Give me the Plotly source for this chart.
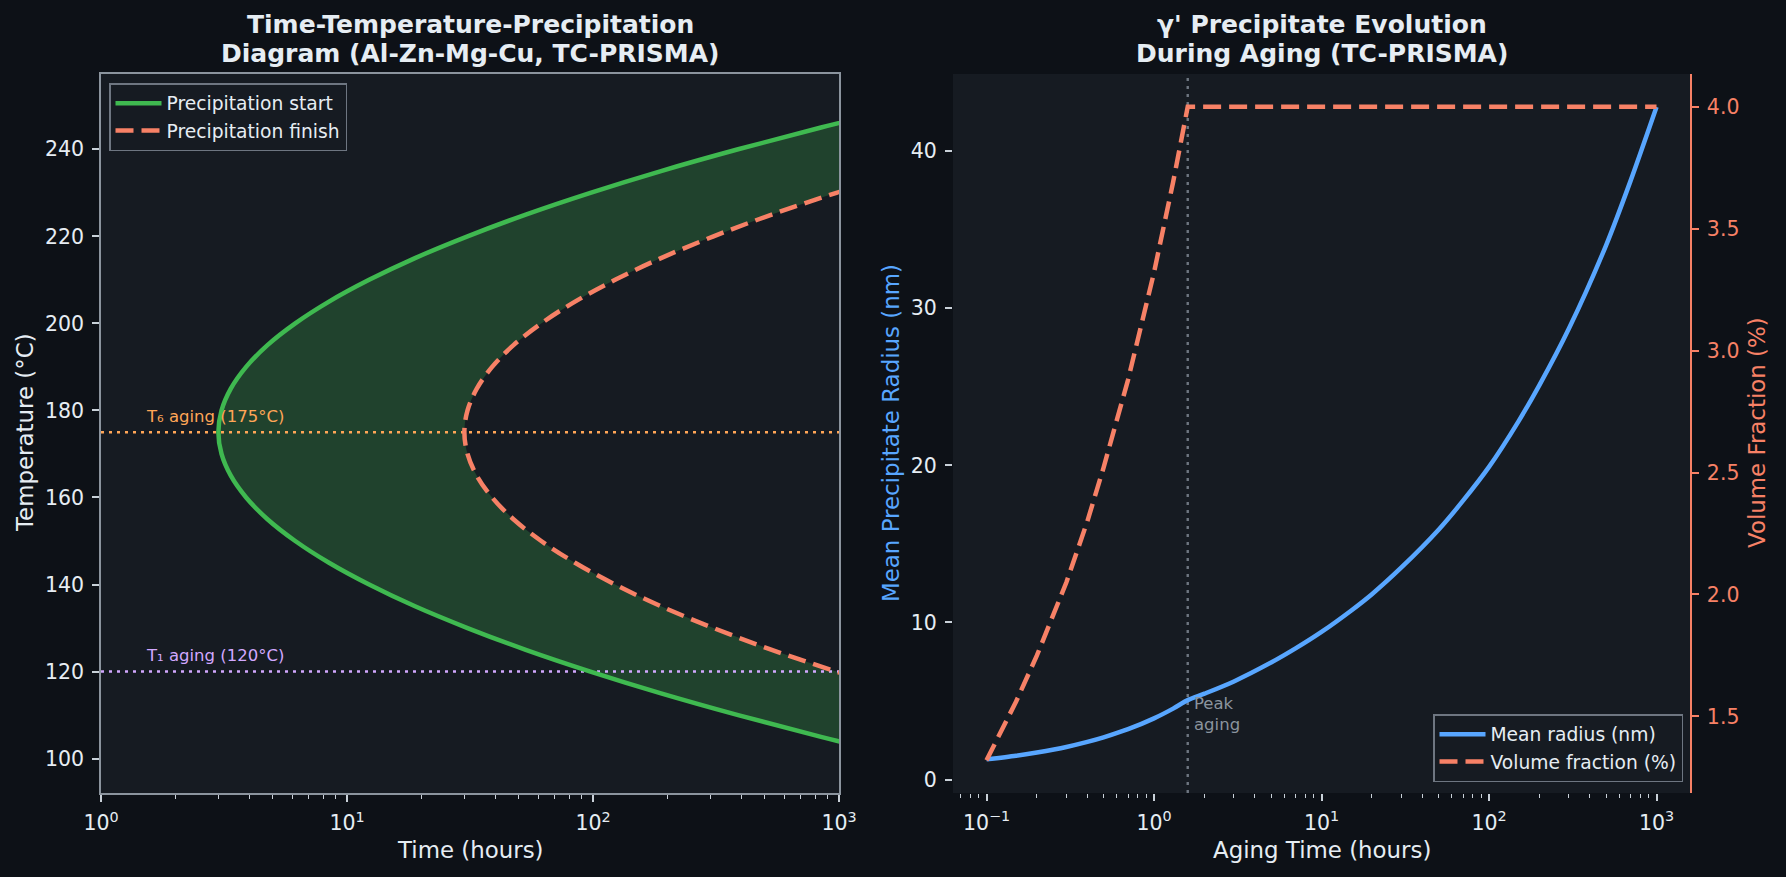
import math
import plotly.graph_objects as go

# ---------------- data ----------------
# Left: TTP diagram
temperature_c = [100, 105, 110, 115, 120, 125, 130, 135, 140, 145, 150, 155, 160, 165, 170, 175,
                 180, 185, 190, 195, 200, 205, 210, 215, 220, 225, 230, 235, 240, 245, 250]
start_hours = [1948, 845, 389, 189, 97.6, 53.3, 30.9, 18.9, 12.3, 8.45, 6.16, 4.75, 3.89, 3.37, 3.09, 3.0,
               3.09, 3.37, 3.89, 4.75, 6.16, 8.45, 12.3, 18.9, 30.9, 53.3, 97.6, 189, 389, 845, 1948]
finish_hours = [19480, 8450, 3890, 1890, 976, 533, 309, 189, 123, 84.5, 61.6, 47.5, 38.9, 33.7, 30.9, 30.0,
                30.9, 33.7, 38.9, 47.5, 61.6, 84.5, 123, 189, 309, 533, 976, 1890, 3890, 8450, 19480]
aging_lines_temp = [175, 120]
aging_lines_label = ["T₆ aging (175°C)", "T₁ aging (120°C)"]

# Right: precipitate evolution
aging_hours = [0.1, 0.15, 0.2, 0.3, 0.4, 0.5, 0.7, 1.0, 1.3, 1.59, 2, 3, 5, 7, 10, 15, 20, 30, 50,
               70, 100, 150, 200, 300, 500, 700, 1000]
mean_radius_nm = [1.29, 1.52, 1.73, 2.08, 2.40, 2.69, 3.21, 3.90, 4.52, 5.06, 5.47, 6.25, 7.45, 8.35,
                  9.40, 10.75, 11.80, 13.50, 15.90, 17.75, 19.90, 22.80, 25.10, 28.70, 34.00, 38.10, 42.80]
volume_fraction_pct = [1.32, 1.56, 1.75, 2.05, 2.30, 2.52, 2.88, 3.32, 3.69, 4.00, 4.00, 4.00, 4.00, 4.00,
                       4.00, 4.00, 4.00, 4.00, 4.00, 4.00, 4.00, 4.00, 4.00, 4.00, 4.00, 4.00, 4.00]
peak_aging_hours = 1.59

# ---------------- styling ----------------
FONT = "DejaVu Sans"
PAPER = "#0d1117"
PANEL = "#161b22"
TEXT = "#e6edf3"
SPINE = "#8b949e"
GREEN = "#3fb950"
SALMON = "#f78166"
BLUE = "#58a6ff"
ORANGE = "#ffa657"
PURPLE = "#d2a8ff"
GREY = "#8b949e"

W, H = 1786, 877
L1, R1 = 101 / W, 839 / W
L2, R2 = 953 / W, 1690 / W
B, T = 1 - 793 / H, 1 - 74 / H

TICK = 20.5
LABEL = 22.9
TITLE = 25
LEG = 18.7
SMALL = 16.5

fig = go.Figure()

# fill between start and finish
fig.add_trace(go.Scatter(
    x=start_hours + finish_hours[::-1], y=temperature_c + temperature_c[::-1],
    fill="toself", fillcolor="rgba(63,185,80,0.25)", line=dict(width=0, shape="spline"),
    mode="lines", showlegend=False, hoverinfo="skip", xaxis="x", yaxis="y"))

# aging temperature lines
for temp, col in zip(aging_lines_temp, [ORANGE, PURPLE]):
    fig.add_trace(go.Scatter(x=[1, 1000], y=[temp, temp], mode="lines",
                             line=dict(color=col, width=2.6, dash="3px,5px"),
                             showlegend=False, xaxis="x", yaxis="y"))

fig.add_trace(go.Scatter(x=start_hours, y=temperature_c, mode="lines", name="Precipitation start",
                         line=dict(color=GREEN, width=4.5, shape="spline"),
                         xaxis="x", yaxis="y", legend="legend", legendgroup="a"))
fig.add_trace(go.Scatter(x=finish_hours, y=temperature_c, mode="lines", name="Precipitation finish",
                         line=dict(color=SALMON, width=4.5, dash="18px,8px", shape="spline"),
                         xaxis="x", yaxis="y", legend="legend", legendgroup="b"))

# right panel
fig.add_trace(go.Scatter(x=[peak_aging_hours, peak_aging_hours], y=[-0.85, 44.9], mode="lines",
                         line=dict(color="#6e7681", width=2.4, dash="3px,5px"),
                         showlegend=False, xaxis="x2", yaxis="y2"))
fig.add_trace(go.Scatter(x=aging_hours, y=mean_radius_nm, mode="lines", name="Mean radius (nm)",
                         line=dict(color=BLUE, width=4.5, shape="spline", smoothing=0.8),
                         xaxis="x2", yaxis="y2", legend="legend2", legendgroup="c"))
fig.add_trace(go.Scatter(x=aging_hours, y=volume_fraction_pct, mode="lines", name="Volume fraction (%)",
                         line=dict(color=SALMON, width=4.5, dash="18px,8px"),
                         xaxis="x2", yaxis="y3", legend="legend2", legendgroup="d"))

def sup(e):
    return "10<sup>" + (str(e) if e >= 0 else "\u2212" + str(-e)) + "</sup>"

def minor_vals(lo, hi):
    vals = []
    for e in range(lo, hi):
        for m in range(2, 10):
            vals.append(m * 10 ** e)
    return vals

tickfont = dict(family=FONT, size=TICK, color=TEXT)

common_x = dict(type="log", showgrid=False, zeroline=False, ticks="outside", ticklen=7, tickwidth=1.5,
                tickcolor="#c9d1d9", tickfont=tickfont, ticklabelstandoff=4, automargin=False)

fig.update_layout(
    width=W, height=H, autosize=False,
    margin=dict(l=0, r=0, t=0, b=0, autoexpand=False),
    paper_bgcolor=PAPER, plot_bgcolor=PANEL,
    font=dict(family=FONT, color=TEXT),
    xaxis=dict(**common_x, domain=[L1, R1], anchor="y", range=[0, 3],
               tickvals=[1, 10, 100, 1000], ticktext=[sup(e) for e in range(0, 4)],
               showline=True, linecolor=SPINE, linewidth=1.5, mirror=True,
               minor=dict(ticks="outside", ticklen=4, tickwidth=1, tickcolor="#c9d1d9",
                          tickvals=minor_vals(0, 3), showgrid=False)),
    yaxis=dict(domain=[B, T], anchor="x", range=[92.1, 257.3], tickvals=list(range(100, 241, 20)),
               showgrid=False, zeroline=False, ticks="outside", ticklen=7, tickwidth=1.5,
               tickcolor="#c9d1d9", tickfont=tickfont, ticklabelstandoff=4, automargin=False,
               showline=True, linecolor=SPINE, linewidth=1.5, mirror=True),
    xaxis2=dict(**common_x, domain=[L2, R2], anchor="y2", range=[-1.2, 3.2],
                tickvals=[0.1, 1, 10, 100, 1000], ticktext=[sup(e) for e in range(-1, 4)],
                showline=False,
                minor=dict(ticks="outside", ticklen=4, tickwidth=1, tickcolor="#c9d1d9",
                           tickvals=minor_vals(-2, 4), showgrid=False)),
    yaxis2=dict(domain=[B, T], anchor="x2", range=[-0.85, 44.9], tickvals=[0, 10, 20, 30, 40],
                showgrid=False, zeroline=False, ticks="outside", ticklen=7, tickwidth=1.5,
                tickcolor="#c9d1d9", tickfont=tickfont, ticklabelstandoff=4, showline=False,
                automargin=False),
    yaxis3=dict(overlaying="y2", side="right", anchor="x2", range=[1.186, 4.134],
                tickvals=[1.5, 2.0, 2.5, 3.0, 3.5, 4.0], ticktext=["1.5", "2.0", "2.5", "3.0", "3.5", "4.0"],
                showgrid=False, zeroline=False, ticks="outside", ticklen=7, tickwidth=1.5,
                tickcolor=SALMON, tickfont=dict(family=FONT, size=TICK, color=SALMON), ticklabelstandoff=4,
                showline=True, linecolor=SALMON, linewidth=1.5, automargin=False),
    legend=dict(x=109 / W, y=1 - 83 / H, xanchor="left", yanchor="top",
                bgcolor=PANEL, bordercolor="#6e7681", borderwidth=1.5,
                font=dict(family=FONT, size=LEG, color=TEXT), tracegroupgap=0, itemwidth=46),
    legend2=dict(x=1683 / W, y=1 - 782 / H, xanchor="right", yanchor="bottom",
                 bgcolor=PANEL, bordercolor="#6e7681", borderwidth=1.5,
                 font=dict(family=FONT, size=LEG, color=TEXT), tracegroupgap=0, itemwidth=46),
)

ann = []
cx1, cx2 = (L1 + R1) / 2, (L2 + R2) / 2
titles = [("Time-Temperature-Precipitation", "Diagram (Al-Zn-Mg-Cu, TC-PRISMA)", cx1),
          ("γ' Precipitate Evolution", "During Aging (TC-PRISMA)", cx2)]
for l1, l2, cx in titles:
    for txt, yy in ((l1, 25), (l2, 53.5)):
        ann.append(dict(text="<b>" + txt + "</b>", x=cx, y=1 - yy / H, xref="paper", yref="paper",
                        showarrow=False, font=dict(family=FONT, size=TITLE, color=TEXT),
                        xanchor="center", yanchor="middle"))
ann.append(dict(text="Time (hours)", x=cx1, y=1 - 850 / H, xref="paper", yref="paper", showarrow=False,
                font=dict(family=FONT, size=LABEL, color=TEXT), xanchor="center", yanchor="middle"))
ann.append(dict(text="Aging Time (hours)", x=cx2, y=1 - 850 / H, xref="paper", yref="paper", showarrow=False,
                font=dict(family=FONT, size=LABEL, color=TEXT), xanchor="center", yanchor="middle"))
ann.append(dict(text="Temperature (°C)", x=25 / W, y=1 - 433 / H, xref="paper", yref="paper",
                showarrow=False, textangle=-90, xanchor="center", yanchor="middle",
                font=dict(family=FONT, size=LABEL, color=TEXT)))
ann.append(dict(text="Mean Precipitate Radius (nm)", x=891 / W, y=1 - 433 / H, xref="paper", yref="paper",
                showarrow=False, textangle=-90, xanchor="center", yanchor="middle",
                font=dict(family=FONT, size=LABEL, color=BLUE)))
ann.append(dict(text="Volume Fraction (%)", x=1757 / W, y=1 - 433 / H, xref="paper", yref="paper",
                showarrow=False, textangle=-90, xanchor="center", yanchor="middle",
                font=dict(family=FONT, size=LABEL, color=SALMON)))
for temp, lab, col in zip(aging_lines_temp, aging_lines_label, [ORANGE, PURPLE]):
    ann.append(dict(text=lab, x=math.log10(1.5), y=temp + 1.0, xref="x", yref="y", showarrow=False,
                    xanchor="left", yanchor="bottom", font=dict(family=FONT, size=SMALL, color=col)))
ann.append(dict(text="Peak<br>aging", x=math.log10(peak_aging_hours), y=5.6, xref="x2", yref="y2",
                showarrow=False, xanchor="left", yanchor="top", xshift=4, align="left",
                font=dict(family=FONT, size=SMALL, color=GREY)))
fig.update_layout(annotations=ann)

fig.write_html("out.html")
